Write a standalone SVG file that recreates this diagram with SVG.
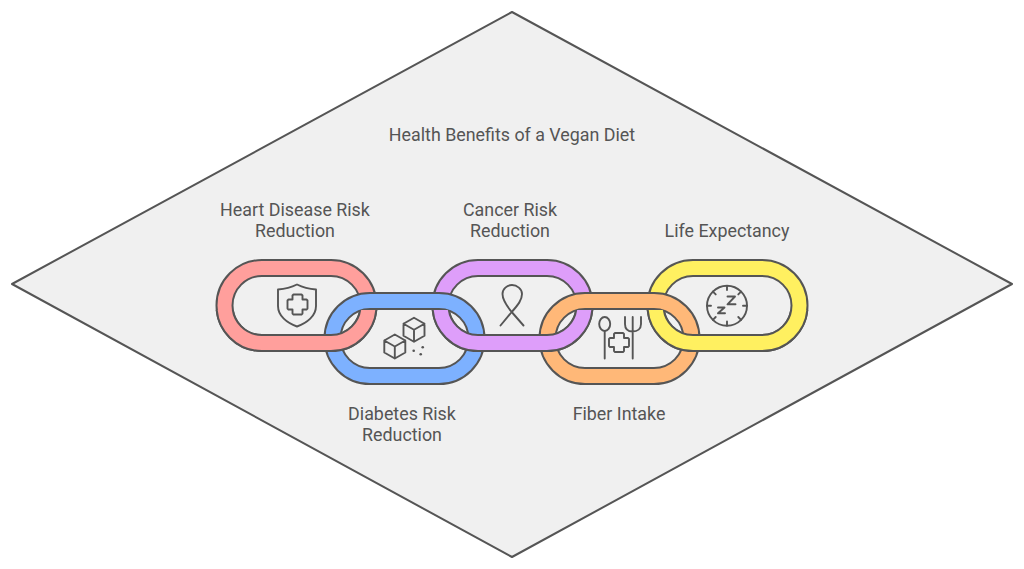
<svg xmlns="http://www.w3.org/2000/svg" width="1024" height="569" viewBox="0 0 1024 569">
<style>
text{font-family:Roboto,"Liberation Sans",sans-serif;font-size:17.85px;fill:#555;text-anchor:middle}
.o{stroke:#555;stroke-width:2;stroke-linejoin:round;fill-rule:evenodd}
.i{fill:none;stroke:#555;stroke-width:1.900;stroke-linecap:round;stroke-linejoin:round}
.d{fill:#555;stroke:none}
.r{fill:#FF9F9C}.b{fill:#7DB1FF}.p{fill:#DE9EFA}.a{fill:#FFB878}.y{fill:#FFF060}
</style>
<defs>
<path id="ring" d="M45.500 0H114.500A45.500 45.500 0 0 1 114.500 91H45.500A45.500 45.500 0 0 1 45.500 0ZM45.500 16A29.500 29.500 0 0 0 45.500 75H114.500A29.500 29.500 0 0 0 114.500 16Z"/>
<clipPath id="low"><rect x="0" y="310" width="1024" height="60"/></clipPath>
<path id="cube" d="M0 0L10.500 6V18L0 24L-10.500 18V6ZM-10.500 6L0 12L10.500 6M0 12V24"/>
</defs>
<g id="background"><polygon points="512,12 1012,284 512,557 12,284" fill="#F0F0F0" stroke="#555" stroke-width="2" stroke-linejoin="round"/></g>
<text id="title" x="512" y="140.500">Health Benefits of a Vegan Diet</text>
<g id="connectors"></g>
<g id="heart-disease">
<use href="#ring" x="216.500" y="260" class="o r"/>
<path class="i" d="M297 284.500C291 287.500 285 289 278 289.500V306C278 316 287 323 297 326.500C307 323 316 316 316 306V289.500C309 289 303 287.500 297 284.500Z"/>
<path class="i" d="M293.500 294.500H301.500L302.500 295.500V299.500H306.500L307.500 300.500V308.500L306.500 309.500H302.500V313.500L301.500 314.500H293.500L292.500 313.500V309.500H288.500L287.500 308.500V300.500L288.500 299.500H292.500V295.500Z"/>
<text x="295" y="215.500">Heart Disease Risk</text><text x="295" y="236.500">Reduction</text>
</g>
<g id="cancer">
<use href="#ring" x="432.500" y="260" class="o p"/>
<path class="i" d="M523.500 325.500L511.700 312C506 305 502.500 300 502.500 294C502.500 289 507 285 512 285C517 285 522 289 522 294C522 300 518 305 511.700 312L500.500 325.500"/>
<text x="510" y="215.500">Cancer Risk</text><text x="510" y="236.500">Reduction</text>
</g>
<g id="life-expectancy">
<use href="#ring" x="647.500" y="260" class="o y"/>
<circle cx="727" cy="305.700" r="20" class="i"/>
<path class="i" d="M727 286V290M727 321.500V325.500M707 305.700H711M743 305.700H747M712.900 291.600L715.700 294.400M741.100 291.600L738.300 294.400M712.900 319.800L715.700 317M741.100 319.800L738.300 317"/>
<path class="i" d="M727.500 296.500H735L727.500 304.300H735.500M718 307.500H724.500L718 313.300H725"/>
<text x="727" y="236.500">Life Expectancy</text>
</g>
<g id="diabetes">
<use href="#ring" x="324.500" y="293" class="o b"/>
<use href="#cube" x="394.800" y="334.500" class="i"/>
<use href="#cube" x="414" y="317.700" class="i"/>
<circle cx="413.700" cy="350.700" r="1.300" class="d"/><circle cx="422.700" cy="347.300" r="1.300" class="d"/><circle cx="420.700" cy="354.300" r="1.300" class="d"/>
<text x="402" y="419.500">Diabetes Risk</text><text x="402" y="440.500">Reduction</text>
</g>
<g id="fiber">
<use href="#ring" x="539.500" y="293" class="o a"/>
<ellipse cx="604.700" cy="324" rx="5.500" ry="7" class="i"/>
<path class="i" d="M604.700 331V358.500M632.700 317V358.500M625 317V324C625 329 628 331.500 632.700 331.500C637.400 331.500 641 329 641 324V317"/>
<path class="i" d="M615 333H623L624 334V338H628L629 339V346L628 347H624V351L623 352H615L614 351V347H610L609 346V339L610 338H614V334Z"/>
<text x="619" y="419.500">Fiber Intake</text>
</g>
<g id="weave-overlaps" clip-path="url(#low)">
<use href="#ring" x="216.500" y="260" class="o r"/>
<use href="#ring" x="432.500" y="260" class="o p"/>
<use href="#ring" x="647.500" y="260" class="o y"/>
</g>
</svg>
